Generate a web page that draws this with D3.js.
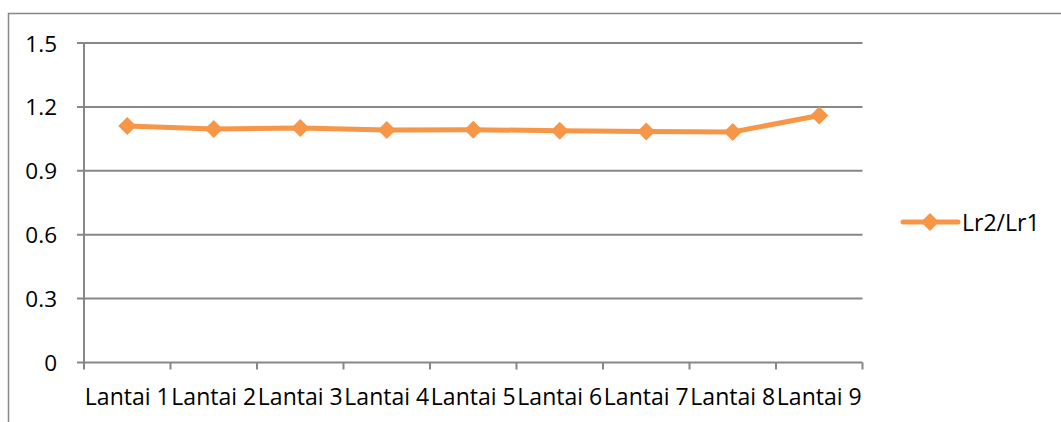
<!DOCTYPE html>
<html><head><meta charset="utf-8">
<script src="https://cdn.jsdelivr.net/npm/d3@7"></script>
<style>html,body{margin:0;padding:0;background:#fff;}svg{display:block;}</style>
</head><body>
<svg id="c" width="1061" height="422"></svg>
<script>
const categories = ["Lantai 1","Lantai 2","Lantai 3","Lantai 4","Lantai 5","Lantai 6","Lantai 7","Lantai 8","Lantai 9"];
const seriesName = "Lr2/Lr1";
const values = [1.110, 1.096, 1.101, 1.091, 1.093, 1.088, 1.085, 1.082, 1.160];
const yTicks = [0, 0.3, 0.6, 0.9, 1.2, 1.5];

const FONT = "'Open Sans', sans-serif";
const orange = "#F79646";
const gray = "#878787";

const svg = d3.select("#c");
// outer frame
svg.append("path").attr("d","M8.5,422 L8.5,13.5 L1061,13.5").attr("fill","none").attr("stroke",gray).attr("stroke-width",1.5);

const L = 84, R = 862.5, T = 43, B = 362.5;
const x = d3.scaleBand().domain(categories).range([L,R]);
const y = d3.scaleLinear().domain([0,1.5]).range([B,T]);

const g = svg.append("g");
g.selectAll("line.grid").data(yTicks).join("line")
  .attr("x1",L-7).attr("x2",R).attr("y1",d=>y(d)).attr("y2",d=>y(d))
  .attr("stroke",gray).attr("stroke-width",2);
g.append("line").attr("x1",L).attr("x2",L).attr("y1",T).attr("y2",B).attr("stroke",gray).attr("stroke-width",2);
const edges = categories.map(c=>x(c)).concat([R]);
g.selectAll("line.xt").data(edges).join("line")
  .attr("x1",d=>d).attr("x2",d=>d).attr("y1",B).attr("y2",B+7)
  .attr("stroke",gray).attr("stroke-width",2);
g.selectAll("text.yl").data(yTicks).join("text")
  .attr("x",57).attr("y",d=>y(d)).attr("text-anchor","end").attr("dominant-baseline","central")
  .attr("font-family",FONT).attr("font-size",22.5).attr("fill","#000")
  .text(d=>d===0?"0":d3.format(".1f")(d));
g.selectAll("text.xl").data(categories).join("text")
  .attr("x",d=>x(d)+x.bandwidth()/2).attr("y",395.5).attr("text-anchor","middle").attr("dominant-baseline","central")
  .attr("font-family",FONT).attr("font-size",23).attr("fill","#000")
  .text(d=>d);

const diamond = r => `M0,${-r}L${r},0L0,${r}L${-r},0Z`;
const line = d3.line().x((d,i)=>x(categories[i])+x.bandwidth()/2).y(d=>y(d));
g.append("path").datum(values).attr("d",line).attr("fill","none").attr("stroke",orange).attr("stroke-width",5).attr("stroke-linejoin","round");
g.selectAll("path.m").data(values).join("path")
  .attr("transform",(d,i)=>`translate(${x(categories[i])+x.bandwidth()/2},${y(d)})`)
  .attr("d",diamond(9)).attr("fill",orange);

const lg = svg.append("g");
lg.append("line").attr("x1",903).attr("x2",958).attr("y1",222).attr("y2",222).attr("stroke",orange).attr("stroke-width",5).attr("stroke-linecap","round");
lg.append("path").attr("transform","translate(930,222)").attr("d",diamond(9)).attr("fill",orange);
lg.append("text").attr("x",962).attr("y",221.5).attr("dominant-baseline","central")
  .attr("font-family",FONT).attr("font-size",23).attr("fill","#000").text(seriesName);
</script>
</body></html>
